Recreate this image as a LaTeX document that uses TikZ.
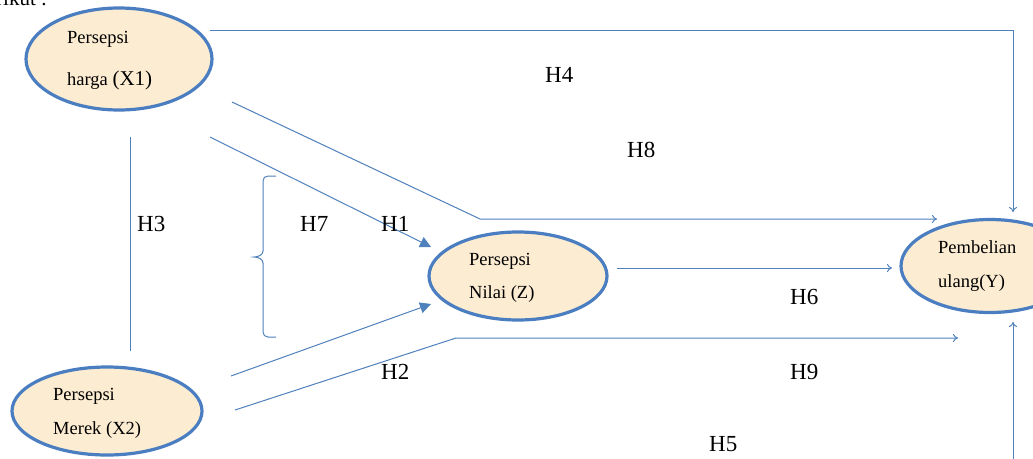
\documentclass[tikz,border=0pt]{standalone}
\usepackage{fontspec}
\setmainfont{Liberation Serif}
\usetikzlibrary{arrows.meta,shapes.geometric}
\definecolor{lineblue}{RGB}{79,129,189}
\definecolor{rimblue}{RGB}{74,126,193}
\definecolor{cream}{RGB}{252,236,210}
\tikzset{
  var/.style={ellipse, draw=rimblue, line width=3.2pt, fill=cream, inner sep=0pt},
  vtext/.style={anchor=base west, inner sep=0pt, font=\fontsize{18.5}{20}\selectfont},
  hlab/.style={anchor=base west, inner sep=0pt, font=\fontsize{23}{26}\selectfont},
  conn/.style={draw=lineblue, line width=1pt},
  openarr/.style={conn, -{To[length=5pt,width=8pt]}},
  fillarr/.style={conn, -{Triangle[length=11pt,width=11pt]}}
}
\begin{document}
\begin{tikzpicture}[x=1pt,y=-1pt]
\useasboundingbox (0,0) rectangle (1033,458);
\fill[white] (0,0) rectangle (1033,458);
\begin{scope}
\clip (0,0) rectangle (1033,458);
% cut-off intro text
\node[anchor=base west, inner sep=0pt, font=\fontsize{21}{24}\selectfont] (intro) at (-4,5) {rikut :};

% variables
\node[var, minimum width=186pt, minimum height=102pt] (X1) at (119,59) {};
\node[var, minimum width=190pt, minimum height=88pt] (X2) at (107,411) {};
\node[var, minimum width=178pt, minimum height=88pt] (Z) at (518,276) {};
\node[var, minimum width=178pt, minimum height=93pt] (Y) at (990,266) {};

\node[vtext] (t1a) at (67,43) {Persepsi};
\node[vtext] (t1b) at (67,85) {harga {\fontsize{21}{22}\selectfont(X1)}};
\node[vtext] (t2a) at (53,400) {Persepsi};
\node[vtext] (t2b) at (53,434) {Merek (X2)};
\node[vtext] (tza) at (469,265) {Persepsi};
\node[vtext] (tzb) at (469,298) {Nilai (Z)};
\node[vtext] (tya) at (938,253) {Pembelian};
\node[vtext] (tyb) at (938,287) {ulang(Y)};

% connector coordinates
\coordinate (a1) at (210,30);
\coordinate (a2) at (1013,30);
\coordinate (a3) at (1013,212);
\coordinate (b1) at (232,102);
\coordinate (b2) at (480,219);
\coordinate (b3) at (937,219);
\coordinate (c1) at (210,137);
\coordinate (c2) at (431,247);
\coordinate (d1) at (130,137);
\coordinate (d2) at (130,351);
\coordinate (e1) at (231,376);
\coordinate (e2) at (431,304);
\coordinate (f1) at (235,410);
\coordinate (f2) at (456,338);
\coordinate (f3) at (958,338);
\coordinate (g1) at (617,268);
\coordinate (g2) at (892,268);
\coordinate (h1) at (1013,460);
\coordinate (h2) at (1013,322);

\draw[openarr] (a1) -- (a2) -- (a3);
\draw[openarr] (b1) -- (b2) -- (b3);
\draw[fillarr] (c1) -- (c2);
\draw[conn] (d1) -- (d2);
\draw[fillarr] (e1) -- (e2);
\draw[openarr] (f1) -- (f2) -- (f3);
\draw[openarr] (g1) -- (g2);
\draw[openarr] (h1) -- (h2);

% brace
\draw[conn] (276,176) -- (268,176) .. controls (265,176) and (263,178) .. (263,181)
  -- (263,251) .. controls (263,255) and (258,257) .. (254,257)
  .. controls (258,257) and (263,259) .. (263,263)
  -- (263,332) .. controls (263,335) and (265,337) .. (268,337) -- (276,337);

% hypothesis labels
\node[hlab] (H4) at (545,82) {H4};
\node[hlab] (H8) at (627,157) {H8};
\node[hlab] (H3) at (137,231) {H3};
\node[hlab] (H7) at (300,231) {H7};
\node[hlab] (H1) at (381,231) {H1};
\node[hlab] (H6) at (790,304) {H6};
\node[hlab] (H2) at (381,379) {H2};
\node[hlab] (H9) at (790,379) {H9};
\node[hlab] (H5) at (709,451) {H5};
\end{scope}
\end{tikzpicture}
\end{document}
